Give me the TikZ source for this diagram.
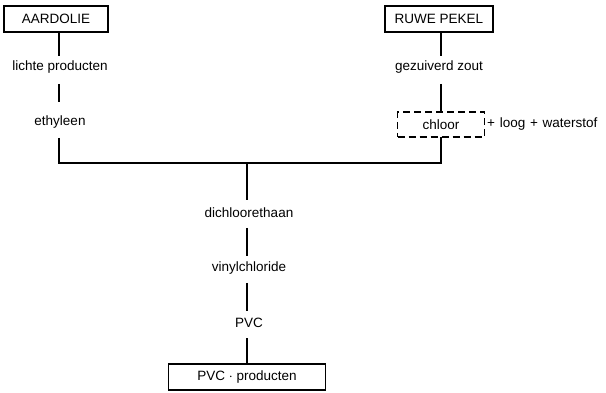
\documentclass[tikz,border=0pt]{standalone}
\usepackage{fontspec}
\setmainfont{Liberation Sans}
\begin{document}
\begin{tikzpicture}[x=1pt,y=-1pt,
  lbl/.style={inner sep=1pt,font=\fontsize{13.5}{15}\selectfont},
  box/.style={draw,line width=1.3pt,minimum height=26pt,inner sep=2pt,font=\fontsize{13.5}{15}\selectfont},
  dbox/.style={draw,dash pattern=on 7pt off 4pt,line width=1.3pt,minimum height=25pt,inner sep=2pt,font=\fontsize{13.5}{15}\selectfont},
  ln/.style={line width=1.3pt}]
\useasboundingbox (0,0) rectangle (606,393);
\node[box,minimum width=104pt] (aard) at (56,19) {AARDOLIE};
\node[lbl] (licht) at (60,67) {lichte producten};
\node[lbl] (eth) at (60,122) {ethyleen};
\node[box,minimum width=108pt] (ruwe) at (439,19) {RUWE PEKEL};
\node[lbl] (zout) at (439,67) {gezuiverd zout};
\node[dbox,minimum width=87pt] (chl) at (441,124.5) {chloor};
\node[lbl,anchor=west] (loog) at (486,124.5) {+\hspace{0.35em}loog\hspace{0.35em}+\hspace{0.35em}waterstof};
\coordinate (j1) at (59,163);
\coordinate (j2) at (441,163);
\coordinate (jm) at (247,163);
\node[lbl] (dich) at (249,213) {dichloorethaan};
\node[lbl] (vinyl) at (249,268) {vinylchloride};
\node[lbl] (pvc) at (249,323) {PVC};
\node[box,minimum width=157pt] (prod) at (247,377) {PVC $\cdot$ producten};
\draw[ln] (59,32) -- (59,56);
\draw[ln] (59,84) -- (59,102);
\draw[ln] (59,138) -- (j1) -- (j2) -- (441,137);
\draw[ln] (441,32) -- (441,56);
\draw[ln] (441,84) -- (441,112);
\draw[ln] (jm) -- (247,200);
\draw[ln] (247,228) -- (247,256);
\draw[ln] (247,283) -- (247,311);
\draw[ln] (247,338) -- (247,364);
\end{tikzpicture}
\end{document}
